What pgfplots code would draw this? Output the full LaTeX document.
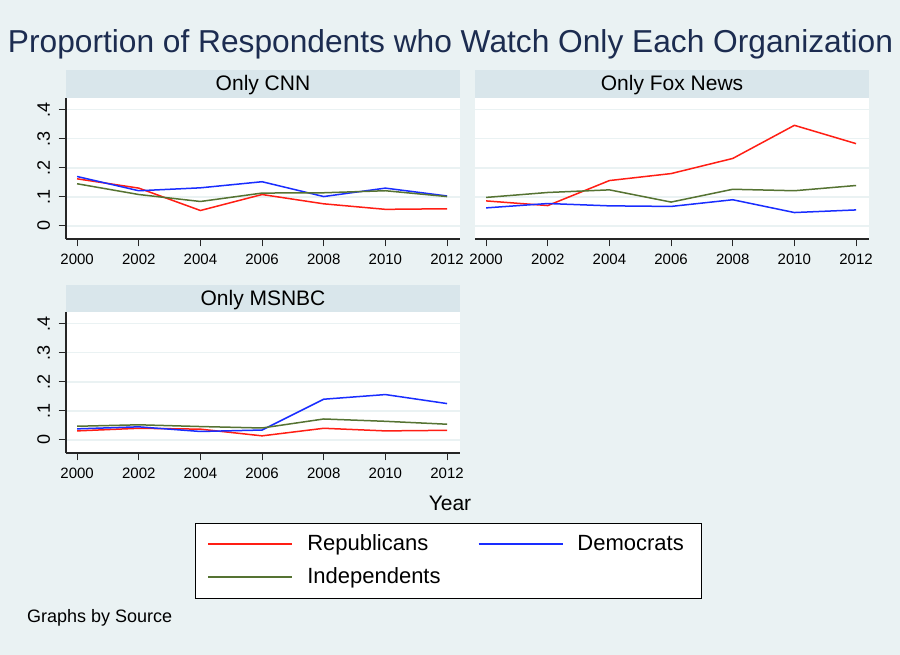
\documentclass[border=0pt]{standalone}
\usepackage{pgfplots}
\pgfplotsset{compat=1.18}
\usepackage{pgfplotstable}
\usepackage{fontspec}
\setmainfont{Liberation Sans}

\definecolor{bgcol}{RGB}{234,242,243}
\definecolor{stripcol}{RGB}{217,230,235}
\definecolor{titlecol}{RGB}{28,44,80}
\definecolor{repcol}{RGB}{255,30,20}
\definecolor{demcol}{RGB}{25,45,255}
\definecolor{indcol}{RGB}{85,115,50}

% year, Republicans, Democrats, Independents
\pgfplotstableread{
year rep dem ind
2000 0.162 0.170 0.145
2002 0.130 0.121 0.108
2004 0.053 0.131 0.084
2006 0.108 0.152 0.113
2008 0.076 0.101 0.114
2010 0.057 0.130 0.121
2012 0.059 0.103 0.101
}\cnn
\pgfplotstableread{
year rep dem ind
2000 0.086 0.062 0.098
2002 0.070 0.077 0.115
2004 0.156 0.069 0.124
2006 0.180 0.067 0.082
2008 0.232 0.090 0.126
2010 0.346 0.046 0.121
2012 0.283 0.055 0.139
}\fox
\pgfplotstableread{
year rep dem ind
2000 0.031 0.038 0.047
2002 0.040 0.045 0.052
2004 0.037 0.029 0.046
2006 0.014 0.034 0.041
2008 0.040 0.140 0.072
2010 0.031 0.156 0.064
2012 0.033 0.125 0.054
}\msnbc

\pgfplotsset{
  panel/.style={
    scale only axis, width=394bp, height=141bp,
    xmin=1999.64, xmax=2012.42, ymin=-0.045, ymax=0.44,
    xtick={2000,2002,...,2012}, ytick={0,0.1,0.2,0.3,0.4},
    yticklabels={0,.1,.2,.3,.4},
    axis x line*=bottom, axis y line*=left,
    axis line style={-, draw=black!85, line width=1.1bp},
    tick align=outside, major tick length=7.5bp,
    tick style={draw=black!85, line width=1bp},
    axis background/.style={fill=white},
    ymajorgrids, grid style={draw=bgcol, line width=1.6bp},
    /pgf/number format/assume math mode=true,
    /pgf/number format/1000 sep={},
    xticklabel style={font=\fontsize{15bp}{18bp}\selectfont, inner sep=0pt,
      text height=10.7bp, text depth=0pt, anchor=north, yshift=-7bp},
    yticklabel style={font=\fontsize{18bp}{21bp}\selectfont, inner sep=0pt,
      text height=12.9bp, text depth=0pt, xshift=-8.5bp, rotate=90, anchor=south},
    every axis plot/.append style={line width=1.5bp, no markers},
  },
  noy/.style={
    y axis line style={draw=none}, ytick style={draw=none}, yticklabels={},
  },
}

\newcommand{\strip}[3]{%
  \fill[stripcol] (66bp+#1,#2) rectangle (460bp+#1,#2+28bp);
  \node[font=\fontsize{21bp}{25bp}\selectfont] at (263bp+#1,#2+13bp) {#3};
}

\begin{document}
\begin{tikzpicture}
\fill[bgcol] (0,0) rectangle (900bp,655bp);
\useasboundingbox (0,0) rectangle (900bp,655bp);

\node[font=\fontsize{31.7bp}{36bp}\selectfont, text=titlecol] at (450.5bp,611bp)
  {Proportion of Respondents who Watch Only Each Organization};

\strip{0bp}{557bp}{Only CNN}
\strip{409bp}{557bp}{Only Fox News}
\strip{0bp}{342bp}{Only MSNBC}

\begin{axis}[panel, at={(66bp,416bp)}, anchor=south west]
\addplot[repcol] table[x=year, y=rep] {\cnn};
\addplot[demcol] table[x=year, y=dem] {\cnn};
\addplot[indcol] table[x=year, y=ind] {\cnn};
\end{axis}

\begin{axis}[panel, noy, at={(475bp,416bp)}, anchor=south west]
\addplot[repcol] table[x=year, y=rep] {\fox};
\addplot[demcol] table[x=year, y=dem] {\fox};
\addplot[indcol] table[x=year, y=ind] {\fox};
\end{axis}

\begin{axis}[panel, at={(66bp,202bp)}, anchor=south west,
  legend columns=2,
  legend cell align=left,
  legend image code/.code={\draw[#1, line width=1.8bp] (0bp,0.3bp) -- (84bp,0.3bp);},
  legend style={at={(axis description cs:0.3274,-0.4965)}, anchor=north west,
    draw=black, line width=1bp, fill=white,
    font=\fontsize{22bp}{26bp}\selectfont,
    inner xsep=12bp, inner ysep=10.5bp,
    row sep=12bp, column sep=14bp,
    nodes={inner sep=0pt, text height=16bp, text depth=5bp},
    /tikz/every even column/.append style={column sep=37bp}},
]
\addplot[repcol] table[x=year, y=rep] {\msnbc};
\addlegendentry{Republicans}
\addplot[demcol] table[x=year, y=dem] {\msnbc};
\addlegendentry{Democrats\hspace*{6bp}}
\addplot[indcol] table[x=year, y=ind] {\msnbc};
\addlegendentry{Independents}
\end{axis}

\node[font=\fontsize{21bp}{25bp}\selectfont] at (450bp,152bp) {Year};
\node[font=\fontsize{18bp}{21bp}\selectfont, anchor=west, inner sep=0pt] at (27bp,37bp) {Graphs by Source};
\end{tikzpicture}
\end{document}
